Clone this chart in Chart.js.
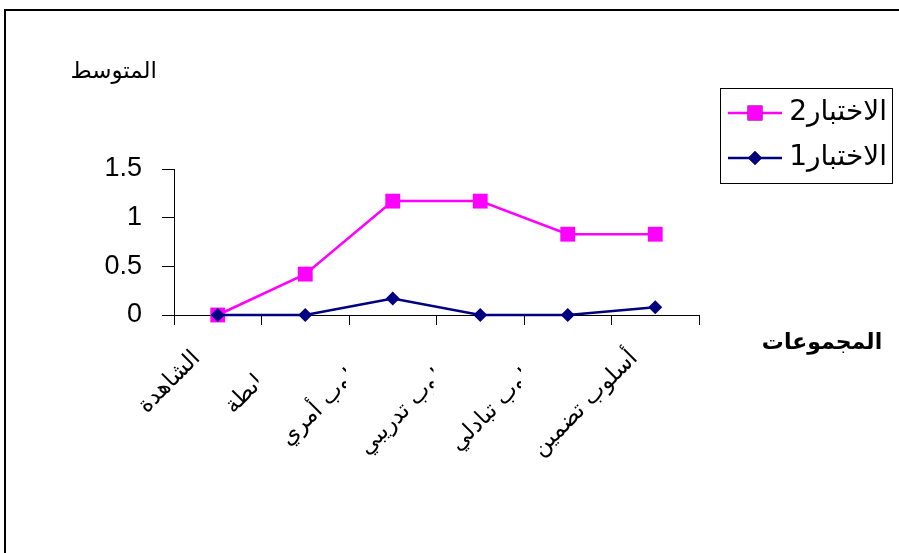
<!DOCTYPE html>
<html>
<head>
<meta charset="utf-8">
<script src="https://cdn.jsdelivr.net/npm/chart.js@4"></script>
<style>
  html, body { margin: 0; padding: 0; background: #fff; }
  #c { display: block; }
</style>
</head>
<body>
<canvas id="c" width="899" height="553"></canvas>
<script>
const categories = ["الشاهدة", "الضابطة", "أسلوب أمري", "أسلوب تدريبي", "أسلوب تبادلي", "أسلوب تضمين"];
const test1 = [0, 0, 0.17, 0, 0, 0.08];
const test2 = [0, 0.42, 1.17, 1.17, 0.83, 0.83];
const seriesNames = ["الاختبار1", "الاختبار2"];
const yTitle = "المتوسط";
const xTitle = "المجموعات";
const yTicks = [0, 0.5, 1, 1.5];

const ARABIC_FONT = '"DejaVu Sans", "Liberation Sans", sans-serif';

const decorPlugin = {
  id: 'decor',
  beforeDraw(chart) {
    const ctx = chart.ctx;
    ctx.save();
    ctx.fillStyle = '#fff';
    ctx.fillRect(0, 0, chart.width, chart.height);
    ctx.strokeStyle = '#000';
    ctx.lineWidth = 2;
    ctx.beginPath();
    ctx.moveTo(899, 10);
    ctx.lineTo(5, 10);
    ctx.lineTo(5, 553);
    ctx.stroke();
    ctx.restore();
  },
  afterDraw(chart) {
    const ctx = chart.ctx;
    const xs = chart.scales.x;
    ctx.save();
    // axis titles
    ctx.fillStyle = '#000';
    ctx.font = '23px ' + ARABIC_FONT;
    ctx.textAlign = 'right';
    ctx.textBaseline = 'middle';
    ctx.fillText(yTitle, 157, 72);
    ctx.font = 'bold 22px ' + ARABIC_FONT;
    ctx.textAlign = 'center';
    ctx.fillText(xTitle, 822, 343);

    // category labels rotated, clipped like the reference
    const step = xs.getPixelForValue(1) - xs.getPixelForValue(0);
    ctx.font = '23px ' + ARABIC_FONT;
    categories.forEach((lab, i) => {
      const cx = xs.getPixelForValue(i);
      ctx.save();
      if (i > 0 && i < categories.length - 1) {
        ctx.beginPath();
        ctx.rect(0, 0, cx - step / 2 - 3, chart.height);
        ctx.clip();
      }
      ctx.translate(cx - 21, 355);
      ctx.rotate(-Math.PI / 4);
      ctx.textAlign = 'right';
      ctx.textBaseline = 'middle';
      ctx.fillStyle = '#000';
      ctx.fillText(lab, 0, 0);
      ctx.restore();
    });

    // legend
    ctx.strokeStyle = '#000';
    ctx.lineWidth = 1;
    ctx.strokeRect(720.5, 88.5, 172, 95);
    const order = [1, 0];
    order.forEach((di, k) => {
      const ds = chart.data.datasets[di];
      const y = 113 + k * 45;
      ctx.strokeStyle = ds.borderColor;
      ctx.lineWidth = ds.borderWidth;
      ctx.beginPath();
      ctx.moveTo(728, y);
      ctx.lineTo(782, y);
      ctx.stroke();
      Chart.helpers.drawPoint(ctx, {
        pointStyle: ds.pointStyle,
        radius: ds.pointRadius,
        borderWidth: 0
      }, 755, y);
      ctx.fillStyle = ds.pointBackgroundColor;
      ctx.fill();
      ctx.fillStyle = '#000';
      ctx.font = '28px ' + ARABIC_FONT;
      ctx.textAlign = 'right';
      ctx.textBaseline = 'middle';
      ctx.fillText(ds.label, 887, y);
    });
    ctx.restore();
  }
};

new Chart(document.getElementById('c'), {
  type: 'line',
  data: {
    labels: categories,
    datasets: [
      {
        label: seriesNames[0],
        data: test1,
        borderColor: '#000080',
        backgroundColor: '#000080',
        pointBackgroundColor: '#000080',
        pointBorderColor: '#000080',
        borderWidth: 2.5,
        pointStyle: 'rectRot',
        pointRadius: 7,
        pointBorderWidth: 0,
        tension: 0,
        clip: false
      },
      {
        label: seriesNames[1],
        data: test2,
        borderColor: '#FF00FF',
        backgroundColor: '#FF00FF',
        pointBackgroundColor: '#FF00FF',
        pointBorderColor: '#FF00FF',
        borderWidth: 2.5,
        pointStyle: 'rect',
        pointRadius: 10.5,
        pointBorderWidth: 0,
        tension: 0,
        clip: false
      }
    ]
  },
  options: {
    responsive: false,
    animation: false,
    events: [],
    layout: { padding: { left: 104, right: 200, top: 169, bottom: 227 } },
    plugins: { legend: { display: false }, tooltip: { enabled: false }, title: { display: false } },
    scales: {
      x: {
        type: 'category',
        offset: true,
        grid: { display: true, offset: true, drawOnChartArea: false, drawTicks: true, tickLength: 10, color: '#000', lineWidth: 1 },
        border: { display: true, color: '#000', width: 1 },
        ticks: { display: false },
        afterFit(s) { s.height = 11; }
      },
      y: {
        min: 0,
        max: 1.5,
        afterBuildTicks(s) { s.ticks = yTicks.map(v => ({ value: v })); },
        grid: { display: true, drawOnChartArea: false, drawTicks: true, tickLength: 12, color: '#000', lineWidth: 1 },
        border: { display: true, color: '#000', width: 1 },
        ticks: {
          color: '#000',
          padding: 20,
          font: { family: '"Liberation Sans", Arial, sans-serif', size: 27 },
          callback: (v) => String(v)
        },
        afterFit(s) { s.width = 70; }
      }
    }
  },
  plugins: [decorPlugin]
});
</script>
</body>
</html>
